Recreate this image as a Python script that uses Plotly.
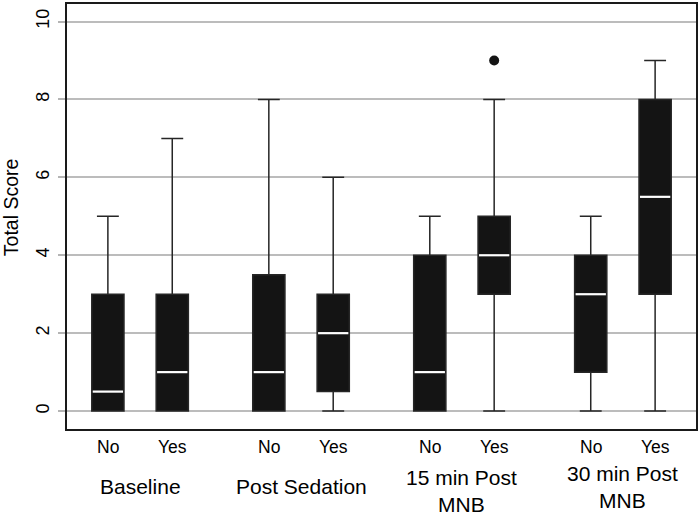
import plotly.graph_objects as go

# ---- data ----
groups = ["Baseline", "Post Sedation", "15 min Post<br>MNB", "30 min Post<br>MNB"]
subgroups = ["No", "Yes"]
lowerfence = [0, 0, 0, 0, 0, 0, 0, 0]
q1 = [0, 0, 0, 0.5, 0, 3, 1, 3]
median = [0.5, 1, 1, 2, 1, 4, 3, 5.5]
q3 = [3, 3, 3.5, 3, 4, 5, 4, 8]
upperfence = [5, 7, 8, 6, 5, 8, 5, 9]
outlier_box = [5]          # index of box with an outlier
outlier_val = [9]
y_ticks = [0, 2, 4, 6, 8, 10]

# ---- layout helpers ----
GROUP_STEP = 2.5
pos = [g * GROUP_STEP + s for g in range(len(groups)) for s in range(len(subgroups))]
sub_labels = [subgroups[s] for g in range(len(groups)) for s in range(len(subgroups))]
group_centers = [g * GROUP_STEP + 0.5 for g in range(len(groups))]
group_yshift = [-57, -57, -62, -58]
BOX_W = 0.5

FONT = "Liberation Sans, Arial, sans-serif"
DARK = "#141414"

fig = go.Figure()
fig.add_trace(go.Box(
    x=pos, q1=q1, median=median, q3=q3,
    lowerfence=lowerfence, upperfence=upperfence,
    width=BOX_W, whiskerwidth=0.68,
    fillcolor=DARK, line=dict(color="#262626", width=1.5),
    boxpoints=False, hoverinfo="skip", showlegend=False,
))

# white median lines
mx, my = [], []
for p, m in zip(pos, median):
    mx += [p - BOX_W * 0.47, p + BOX_W * 0.47, None]
    my += [m, m, None]
fig.add_trace(go.Scatter(x=mx, y=my, mode="lines",
                         line=dict(color="white", width=2.2),
                         hoverinfo="skip", showlegend=False))

# outlier
fig.add_trace(go.Scatter(x=[pos[i] for i in outlier_box], y=outlier_val,
                         mode="markers", marker=dict(color=DARK, size=10),
                         hoverinfo="skip", showlegend=False))

ann = []
for p, lab in zip(pos, sub_labels):
    ann.append(dict(x=p, xref="x", y=0, yref="paper", yshift=-18,
                    text=lab, showarrow=False, yanchor="middle",
                    font=dict(family=FONT, size=17.5, color="black")))
for c, lab, ys in zip(group_centers, groups, group_yshift):
    ann.append(dict(x=c, xref="x", y=0, yref="paper", yshift=ys,
                    text=lab, showarrow=False, yanchor="middle",
                    font=dict(family=FONT, size=21, color="black")))
ann.append(dict(x=0, xref="paper", xshift=-56, y=0.522, yref="paper",
                text="Total Score", textangle=-90, showarrow=False,
                xanchor="center", yanchor="middle",
                font=dict(family=FONT, size=19.5, color="black")))

fig.update_layout(
    width=700, height=516,
    margin=dict(l=67, r=2, t=2, b=87),
    paper_bgcolor="white", plot_bgcolor="white",
    annotations=ann,
    xaxis=dict(range=[-0.635, 9.135], showticklabels=False, ticks="",
               showgrid=False, zeroline=False,
               showline=True, mirror=True, linecolor="#1a1a1a", linewidth=1.6),
    yaxis=dict(range=[-0.46, 10.45], tickvals=y_ticks,
               ticktext=[str(v) for v in y_ticks], tickangle=-90,
               ticks="outside", ticklen=7, tickwidth=1.5, tickcolor="#b4b4b4",
               ticklabelstandoff=2,
               tickfont=dict(family=FONT, size=18, color="black"),
               showgrid=True, gridcolor="#bcbcbc", gridwidth=1.8,
               zeroline=False,
               showline=True, mirror=True, linecolor="#1a1a1a", linewidth=1.6),
)

fig.write_html("out.html", config={"displayModeBar": False},
               post_script="document.body.style.margin='0px';document.body.style.overflow='hidden';")
